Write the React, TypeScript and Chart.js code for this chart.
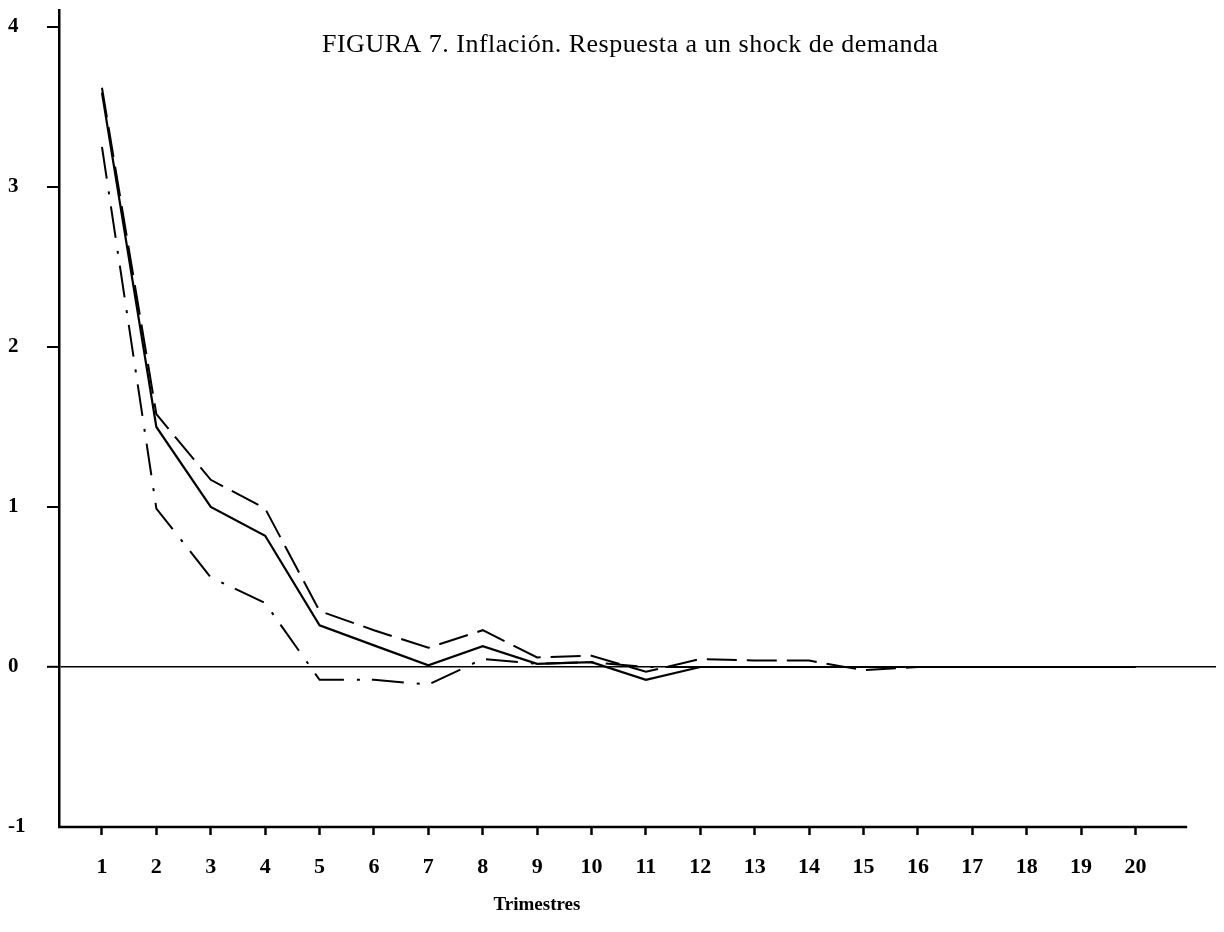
import React, { useEffect, useRef } from "react";
import { Chart, registerables } from "chart.js";

Chart.register(...registerables);

// ---- data ----
const periods = [1, 2, 3, 4, 5, 6, 7, 8, 9, 10, 11, 12, 13, 14, 15, 16, 17, 18, 19, 20];
const central = [3.59, 1.5, 1.0, 0.82, 0.26, 0.135, 0.01, 0.13, 0.02, 0.03, -0.08, 0.0, 0.0, 0.0, 0.0, 0.0, 0.0, 0.0, 0.0, 0.0];
const upperBand = [3.62, 1.58, 1.17, 0.99, 0.35, 0.23, 0.12, 0.23, 0.06, 0.07, -0.03, 0.05, 0.04, 0.04, -0.02, 0.0, 0.0, 0.0, 0.0, 0.0];
const lowerBand = [3.25, 0.99, 0.56, 0.4, -0.08, -0.08, -0.11, 0.05, 0.02, 0.03, 0.0, 0.0, 0.0, 0.0, 0.0, 0.0, 0.0, 0.0, 0.0, 0.0];
const yTickValues = [-1, 0, 1, 2, 3, 4];
const chartTitle = "FIGURA 7. Inflación. Respuesta a un shock de demanda";
const xAxisTitle = "Trimestres";

const X_MIN = 0.21;
const X_MAX = 21.48;
const X_AXIS_END = 20.95;
const Y_MIN = -1;
const Y_MAX = 4.106;

const INK = "#000000";
const SERIF = '"Liberation Serif", "DejaVu Serif", serif';

const toPoints = (vals: number[]) => periods.map((p, i) => ({ x: p, y: vals[i] }));

const decorPlugin = {
  id: "decor",
  afterDraw(chart: any) {
    const { ctx, chartArea } = chart;
    const xs = chart.scales.x;
    ctx.save();
    // bottom axis line
    ctx.strokeStyle = INK;
    ctx.lineWidth = 2.5;
    ctx.beginPath();
    ctx.moveTo(chartArea.left - 1, chartArea.bottom);
    ctx.lineTo(xs.getPixelForValue(X_AXIS_END), chartArea.bottom);
    ctx.stroke();
    // title
    ctx.fillStyle = INK;
    ctx.font = `26px ${SERIF}`;
    try { (ctx as any).letterSpacing = "0.5px"; } catch (e) {}
    ctx.textAlign = "left";
    ctx.textBaseline = "middle";
    ctx.fillText(chartTitle, 314, 37);
    // x axis title
    try { (ctx as any).letterSpacing = "0px"; } catch (e) {}
    ctx.font = `bold 19px ${SERIF}`;
    ctx.textAlign = "center";
    ctx.fillText(xAxisTitle, 529, 897);
    ctx.restore();
  },
};

export default function App() {
  const ref = useRef<HTMLCanvasElement | null>(null);

  useEffect(() => {
    if (!ref.current) return;
    const chart = new Chart(ref.current, {
      type: "line",
      data: {
        datasets: [
          {
            label: "Respuesta",
            data: toPoints(central),
            borderColor: INK,
            borderWidth: 2.2,
            pointRadius: 0,
            tension: 0,
          },
          {
            label: "Banda superior",
            data: toPoints(upperBand),
            borderColor: INK,
            borderWidth: 2,
            borderDash: [30, 10],
            pointRadius: 0,
            tension: 0,
          },
          {
            label: "Banda inferior",
            data: toPoints(lowerBand),
            borderColor: INK,
            borderWidth: 2,
            borderDash: [32, 13, 3, 12],
            pointRadius: 0,
            tension: 0,
          },
        ],
      },
      options: {
        animation: false,
        responsive: false,
        events: [],
        layout: { padding: { left: 0, top: 2, right: 0, bottom: 0 } },
        plugins: {
          legend: { display: false },
          tooltip: { enabled: false },
          title: { display: false },
        },
        scales: {
          x: {
            type: "linear",
            min: X_MIN,
            max: X_MAX,
            afterBuildTicks: (scale: any) => {
              scale.ticks = periods.map((v) => ({ value: v }));
            },
            afterFit: (scale: any) => {
              scale.height = 97;
              scale.paddingLeft = 0;
              scale.paddingRight = 0;
            },
            border: { display: false },
            grid: {
              display: true,
              drawOnChartArea: false,
              drawTicks: true,
              tickLength: 8,
              tickWidth: 2.5,
              tickColor: INK,
              color: INK,
            },
            ticks: {
              color: INK,
              font: { family: SERIF, size: 22, weight: "bold" },
              padding: 19,
              maxRotation: 0,
              autoSkip: false,
              callback: (v: any) => String(v),
            },
          },
          y: {
            type: "linear",
            min: Y_MIN,
            max: Y_MAX,
            afterBuildTicks: (scale: any) => {
              scale.ticks = yTickValues.map((v) => ({ value: v }));
            },
            afterFit: (scale: any) => {
              scale.width = 51;
              scale.paddingTop = 0;
              scale.paddingBottom = 0;
            },
            border: { display: true, color: INK, width: 2.5 },
            grid: {
              display: true,
              drawOnChartArea: true,
              drawTicks: true,
              tickLength: 12,
              lineWidth: (c: any) => (c.tick && c.tick.value === 0 ? 1.6 : 0),
              color: (c: any) => (c.tick && c.tick.value === 0 ? INK : "rgba(0,0,0,0)"),
              tickColor: (c: any) => (c.tick && c.tick.value === -1 ? "rgba(0,0,0,0)" : INK),
              tickWidth: 2,
            },
            ticks: {
              color: INK,
              crossAlign: "far",
              font: { family: SERIF, size: 21, weight: "bold" },
              padding: 6,
              callback: (v: any) => String(v),
            },
          },
        },
      },
      plugins: [decorPlugin],
    } as any);
    return () => chart.destroy();
  }, []);

  return (
    <div style={{ width: 1208, height: 916 }}>
      <canvas ref={ref} width={1208} height={916} style={{ display: "block", width: 1208, height: 916 }} />
    </div>
  );
}
